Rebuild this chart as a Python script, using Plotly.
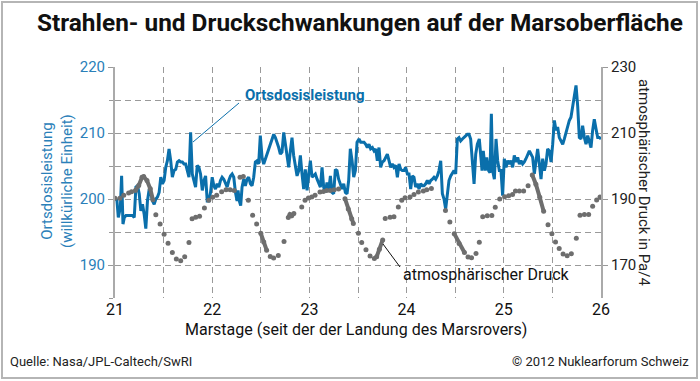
import plotly.graph_objects as go

# ---------------- data ----------------
# Ortsdosisleistung (left axis, arbitrary units), time in Mars days (sol)
rad_sol = [21.000, 21.020, 21.034, 21.055, 21.068, 21.082, 21.096, 21.113, 21.147, 21.181,
           21.198, 21.215, 21.232, 21.249, 21.266, 21.283, 21.300, 21.317, 21.334, 21.352,
           21.369, 21.386, 21.403, 21.420, 21.437, 21.454, 21.471, 21.488, 21.505, 21.522,
           21.539, 21.556, 21.573, 21.590, 21.607, 21.625, 21.642, 21.659, 21.676, 21.693,
           21.710, 21.727, 21.744, 21.761, 21.778, 21.795, 21.812, 21.829, 21.846, 21.863,
           21.880, 21.898, 21.915, 21.932, 21.949, 21.966, 21.983, 22.000, 22.017, 22.034,
           22.051, 22.068, 22.085, 22.102, 22.119, 22.137, 22.154, 22.171, 22.188, 22.205,
           22.222, 22.239, 22.256, 22.266, 22.279, 22.293, 22.307, 22.324, 22.341, 22.358,
           22.375, 22.393, 22.410, 22.427, 22.444, 22.461, 22.478, 22.495, 22.513, 22.530,
           22.547, 22.564, 22.581, 22.598, 22.616, 22.633, 22.650, 22.667, 22.684, 22.701,
           22.718, 22.736, 22.753, 22.770, 22.787, 22.804, 22.821, 22.838, 22.856, 22.873,
           22.890, 22.907, 22.924, 22.941, 22.958, 22.976, 22.993, 23.010, 23.027, 23.044,
           23.061, 23.079, 23.096, 23.113, 23.130, 23.147, 23.164, 23.181, 23.199, 23.216,
           23.233, 23.250, 23.267, 23.284, 23.301, 23.319, 23.336, 23.353, 23.370, 23.387,
           23.404, 23.421, 23.439, 23.456, 23.473, 23.490, 23.510, 23.528, 23.545, 23.562,
           23.579, 23.596, 23.613, 23.630, 23.648, 23.665, 23.682, 23.699, 23.716, 23.733,
           23.750, 23.768, 23.785, 23.802, 23.819, 23.836, 23.853, 23.870, 23.888, 23.905,
           23.922, 23.939, 23.956, 23.973, 23.990, 24.008, 24.025, 24.042, 24.059, 24.076,
           24.093, 24.110, 24.128, 24.145, 24.162, 24.179, 24.196, 24.213, 24.231, 24.248,
           24.265, 24.282, 24.299, 24.316, 24.333, 24.351, 24.368, 24.385, 24.402, 24.419,
           24.436, 24.454, 24.471, 24.488, 24.505, 24.522, 24.539, 24.556, 24.574, 24.591,
           24.608, 24.625, 24.642, 24.659, 24.676, 24.694, 24.711, 24.728, 24.748, 24.776,
           24.789, 24.810, 24.824, 24.844, 24.858, 24.872, 24.885, 24.903, 24.920, 24.937,
           24.954, 24.971, 24.988, 25.005, 25.023, 25.040, 25.057, 25.074, 25.091, 25.108,
           25.126, 25.143, 25.160, 25.177, 25.194, 25.211, 25.228, 25.246, 25.263, 25.280,
           25.297, 25.314, 25.331, 25.348, 25.366, 25.383, 25.400, 25.417, 25.434, 25.451,
           25.468, 25.486, 25.503, 25.520, 25.537, 25.554, 25.571, 25.588, 25.606, 25.623,
           25.640, 25.657, 25.674, 25.691, 25.708, 25.726, 25.743, 25.760, 25.777, 25.794,
           25.811, 25.829, 25.846, 25.863, 25.880, 25.897, 25.914, 25.931, 25.949, 25.966,
           25.983, 26.000]
rad_val = [200.1, 199.8, 197.2, 198.7, 203.5, 196.2, 197.2, 197.5, 197.5, 197.5,
           197.2, 201.8, 202.0, 200.8, 198.2, 199.2, 197.7, 195.5, 199.7, 201.5,
           200.8, 199.7, 199.2, 200.0, 200.3, 201.0, 203.3, 202.3, 202.8, 204.8,
           205.8, 207.6, 205.8, 203.3, 204.3, 204.5, 205.6, 205.8, 205.6, 205.6,
           205.3, 205.3, 204.3, 203.3, 210.1, 203.8, 202.8, 201.8, 205.1, 204.8,
           203.8, 201.3, 202.8, 203.5, 199.7, 199.7, 201.0, 203.3, 202.0, 201.5,
           202.3, 201.8, 202.8, 203.3, 203.0, 202.3, 201.8, 202.8, 203.5, 203.8,
           203.3, 201.0, 199.7, 201.3, 199.7, 199.0, 201.8, 203.0, 202.0, 203.0,
           203.3, 202.3, 202.0, 203.3, 205.6, 205.8, 205.3, 209.6, 206.3, 205.3,
           206.1, 206.8, 207.6, 208.3, 209.1, 209.8, 209.3, 208.6, 207.8, 206.8,
           207.1, 210.1, 208.1, 206.1, 204.8, 207.3, 209.3, 206.6, 204.8, 203.5,
           204.3, 206.6, 203.8, 201.5, 204.5, 201.3, 203.8, 205.8, 203.3, 203.5,
           203.8, 203.0, 202.5, 201.8, 204.8, 201.8, 201.0, 202.5, 201.3, 203.5,
           201.0, 200.8, 204.5, 204.3, 203.0, 202.3, 201.5, 202.3, 201.0, 200.8,
           202.8, 207.6, 205.8, 203.3, 204.3, 208.6, 209.1, 208.6, 208.6, 208.6,
           208.3, 207.8, 208.3, 207.6, 207.8, 207.3, 207.6, 205.8, 207.8, 204.8,
           205.6, 205.8, 206.3, 206.8, 205.8, 204.8, 205.3, 204.8, 205.1, 203.3,
           205.3, 204.5, 204.3, 204.3, 204.8, 203.8, 203.8, 201.5, 203.5, 203.3,
           201.8, 202.3, 201.5, 202.3, 202.0, 202.0, 202.3, 202.8, 202.3, 202.8,
           203.0, 203.3, 203.0, 203.5, 204.3, 205.8, 200.8, 200.0, 198.5, 200.8,
           202.8, 203.5, 204.0, 204.3, 203.8, 209.1, 209.3, 208.8, 209.1, 209.3,
           209.6, 209.8, 209.8, 209.1, 205.8, 202.3, 206.8, 208.3, 209.1, 204.3,
           207.3, 204.3, 206.3, 204.3, 204.0, 212.9, 204.3, 203.0, 209.1, 205.8,
           204.3, 204.3, 200.5, 206.1, 204.8, 205.8, 205.3, 205.8, 204.8, 206.6,
           205.6, 206.3, 205.3, 205.8, 205.3, 205.6, 206.1, 206.6, 207.3, 206.8,
           206.3, 203.8, 205.8, 207.6, 205.3, 203.0, 206.1, 204.3, 205.3, 207.6,
           207.3, 205.6, 208.3, 211.9, 210.4, 210.9, 209.3, 208.8, 208.3, 209.1,
           210.1, 211.1, 211.9, 212.4, 213.9, 215.4, 217.2, 214.1, 209.3, 209.1,
           211.1, 209.3, 208.3, 209.6, 208.8, 207.8, 210.4, 212.1, 210.6, 209.3,
           209.3, 209.1]

# atmosphärischer Druck (right axis, Pa/4); None separates the recorded stretches
press_sol = [21.00, None, 21.05, None, 21.09, None, 21.14, None, 21.17, None,
             21.21, 21.244, 21.278, 21.295, 21.329, 21.363, 21.39, None,
             21.42, None, 21.464, None, 21.505, None, 21.546, None, 21.59, None,
             21.631, None, 21.676, None, 21.717, None, 21.761, None, 21.793, None,
             21.83, None, 21.87, None, 21.92, None, 21.965, None, 22.005, None,
             22.046, None, 22.097, None, 22.142, None, 22.185, None, 22.227, None,
             22.286, None, 22.32, None, 22.372, None, 22.416, None, 22.457, None,
             22.50, 22.53, 22.56, None, 22.597, None, 22.632, None, 22.68, None,
             22.739, None, 22.783, 22.80, 22.818, 22.84, None, 22.921, None,
             22.955, None, 22.99, None, 23.024, None, 23.058, None, 23.109, None,
             23.143, None, 23.178, None, 23.215, None, 23.255, None, 23.30, None,
             23.366, 23.40, 23.435, 23.452, None, 23.504, None, 23.538, None,
             23.582, None, 23.624, None, 23.668, None, 23.692, 23.72, 23.754, None,
             23.78, None, 23.83, None, 23.87, None, 23.915, None, 23.95, None,
             23.984, None, 24.035, None, 24.076, None, 24.121, None, 24.172, None,
             24.207, None, 24.255, None, 24.40, None, 24.445, None,
             24.49, 24.54, 24.595, None, 24.632, None, 24.668, None, 24.714, None,
             24.748, None, 24.783, None, 24.83, None, 24.877, None, 24.912, None,
             24.958, None, 25.008, None, 25.05, None, 25.09, None, 25.12, None,
             25.16, None, 25.204, None, 25.25, None,
             25.293, 25.33, 25.37, 25.41, None, 25.455, None, 25.495, None,
             25.532, None, 25.57, None, 25.61, None, 25.652, None, 25.695, None,
             25.746, None, 25.784, None, 25.829, None, 25.873, None, 25.914, None,
             25.955, None, 25.99]
press_val = [190.2, None, 190.2, None, 191.1, None, 191.8, None, 192.2, None,
             192.6, 194.1, 196.6, 196.8, 195.6, 193.1, 189.8, None,
             185.2, None, 182.4, None, 179.3, None, 176.6, None, 173.8, None,
             171.8, None, 171.3, None, 172.5, None, 176.8, None, 184.0, None,
             184.5, None, 184.8, None, 187.3, None, 189.6, None, 190.5, None,
             191.1, None, 192.2, None, 192.8, None, 192.8, None, 192.6, None,
             196.6, None, 196.8, None, 189.6, None, 185.1, None, 182.4, None,
             179.6, 177.0, 174.5, None, 172.6, None, 172.1, None, 172.9, None,
             177.1, None, 184.4, 185.3, 184.9, 185.6, None, 187.6, None,
             189.6, None, 190.3, None, 190.6, None, 191.1, None, 192.1, None,
             192.3, None, 192.6, None, 192.6, None, 192.8, None, 193.0, None,
             190.1, 187.0, 184.0, 182.6, None, 179.6, None, 176.8, None,
             174.6, None, 172.7, None, 172.0, None, 172.5, 174.8, 177.6, None,
             184.1, None, 184.5, None, 184.6, None, 187.6, None, 189.6, None,
             190.4, None, 190.6, None, 191.4, None, 192.1, None, 192.4, None,
             192.8, None, 193.2, None, 186.5, None, 183.0, None,
             179.5, 176.5, 173.8, None, 172.4, None, 172.2, None, 173.5, None,
             176.9, None, 184.6, None, 184.9, None, 185.0, None, 187.5, None,
             190.0, None, 190.7, None, 191.0, None, 191.4, None, 192.4, None,
             192.4, None, 192.4, None, 194.0, None,
             197.3, 194.5, 190.5, 186.3, None, 182.2, None, 179.5, None,
             177.0, None, 175.0, None, 173.3, None, 172.8, None, 173.4, None,
             178.1, None, 185.1, None, 185.3, None, 185.3, None, 187.8, None,
             189.7, None, 190.6]

x_ticks = [21, 22, 23, 24, 25, 26]
left_ticks = [190, 200, 210, 220]
right_ticks = [170, 190, 210, 230]

BLUE = "#0a6fab"
BLUE_TXT = "#2a80b9"
GRAY = "#6e6e6e"
GRID = "#9a9a9a"
FONT = "Roboto"

fig = go.Figure()
fig.add_trace(go.Scatter(
    x=press_sol, y=press_val, yaxis="y2", mode="lines+markers",
    line=dict(color=GRAY, width=4), marker=dict(color=GRAY, size=5),
    connectgaps=False, hoverinfo="skip", showlegend=False))
fig.add_trace(go.Scatter(
    x=rad_sol, y=rad_val, mode="lines",
    line=dict(color=BLUE, width=3), hoverinfo="skip", showlegend=False))

fig.update_layout(
    width=700, height=381,
    margin=dict(l=115, r=99, t=67, b=83),
    paper_bgcolor="white", plot_bgcolor="white",
    font=dict(family=FONT, size=15, color="#111"),
    xaxis=dict(range=[21, 26], tickvals=x_ticks, showgrid=True,
               gridcolor=GRID, griddash="6px,4px", gridwidth=1,
               minor=dict(dtick=0.5, tick0=21, showgrid=True, gridcolor=GRID,
                          griddash="6px,4px", gridwidth=1),
               showline=False, zeroline=False, ticks="",
               tickfont=dict(size=16, color="#111", family=FONT)),
    yaxis=dict(range=[185, 220], tickvals=left_ticks, showgrid=True,
               gridcolor=GRID, griddash="6px,4px", gridwidth=1,
               minor=dict(dtick=5, tick0=185, showgrid=True, gridcolor=GRID,
                          griddash="6px,4px", gridwidth=1, ticks="outside",
                          ticklen=4, tickcolor="#999"),
               showline=True, linecolor="#aaa", linewidth=2, zeroline=False,
               ticks="outside", ticklen=5, tickcolor="#999",
               tickfont=dict(size=15, color=BLUE_TXT, family=FONT)),
    yaxis2=dict(range=[160, 230], tickvals=right_ticks, overlaying="y", side="right",
                showgrid=False, showline=True, linecolor="#aaa", linewidth=2,
                zeroline=False, ticks="outside", ticklen=5, tickcolor="#999",
                tickfont=dict(size=15, color="#222", family=FONT)),
)

def px(xp):
    return (xp - 115) / 486.0

def py(yp):
    return (298 - yp) / 231.0

annotations = [
    dict(text="<b>Strahlen- und Druckschwankungen auf der Marsoberfläche</b>",
         x=px(360), y=py(22), font=dict(size=24.4, color="#111", family=FONT)),
    dict(text="Ortsdosisleistung<br>(willkürliche Einheit)", textangle=-90,
         x=px(57), y=py(181), font=dict(size=15, color=BLUE_TXT, family=FONT)),
    dict(text="atmosphärischer Druck in Pa/4", textangle=90,
         x=px(644), y=py(182), font=dict(size=15, color="#222", family=FONT)),
    dict(text="Marstage (seit der der Landung des Marsrovers)",
         x=px(356), y=py(329), font=dict(size=16, color="#111", family=FONT)),
    dict(text="Quelle: Nasa/JPL-Caltech/SwRI", x=px(8), y=py(361), xanchor="left",
         font=dict(size=13, color="#222", family=FONT)),
    dict(text="© 2012 Nuklearforum Schweiz", x=px(691), y=py(361), xanchor="right",
         font=dict(size=13, color="#222", family=FONT)),
    dict(text="<b>Ortsdosisleistung</b>", x=px(304), y=py(95),
         font=dict(size=15, color=BLUE, family=FONT)),
    dict(text="atmosphärischer Druck", x=px(486), y=py(274),
         font=dict(size=16, color="#111", family=FONT)),
]
for a in annotations:
    a.setdefault("xanchor", "center")
    a.update(xref="paper", yref="paper", yanchor="middle", showarrow=False)
fig.update_layout(annotations=annotations)

shapes = [
    dict(type="rect", xref="paper", yref="paper", x0=px(2), x1=px(697), y0=py(378), y1=py(2),
         line=dict(color="#b5b5b5", width=2), layer="below"),
    dict(type="line", xref="paper", yref="paper", x0=px(193), y0=py(142), x1=px(239), y1=py(103),
         line=dict(color=BLUE, width=1)),
    dict(type="line", xref="paper", yref="paper", x0=px(383), y0=py(244), x1=px(400), y1=py(267),
         line=dict(color="#111", width=1)),
]
fig.update_layout(shapes=shapes)

fig.write_html("out.html",
               config={"displayModeBar": False, "staticPlot": True},
               post_script="document.body.style.margin='0px'; document.body.style.overflow='hidden';")
